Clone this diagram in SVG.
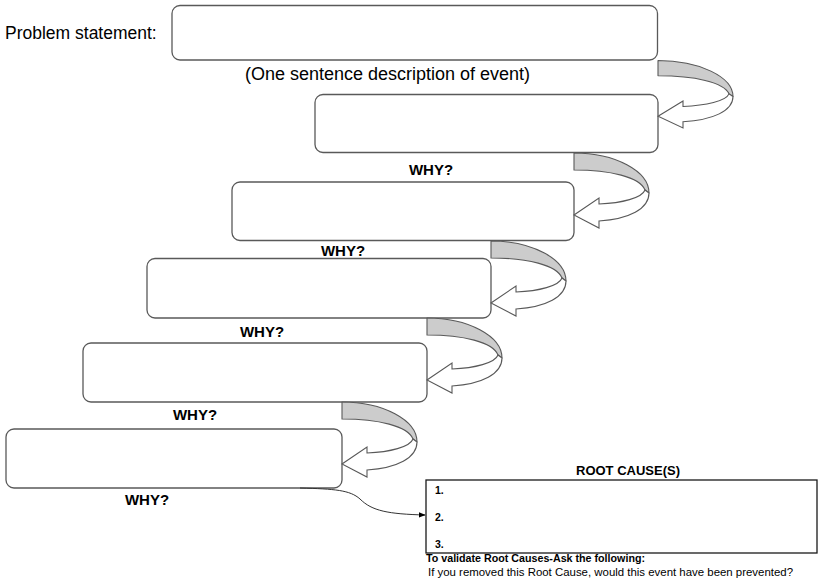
<svg xmlns="http://www.w3.org/2000/svg" width="822" height="586" viewBox="0 0 822 586">
<style>
.box{fill:#fff;stroke:#595959;stroke-width:1.3}
.rc{fill:#fff;stroke:#1a1a1a;stroke-width:1.3}
.lbl{font-family:"Liberation Sans",Arial,sans-serif;fill:#000}
.why{font-family:"Liberation Sans",Arial,sans-serif;font-weight:bold;font-size:15px;fill:#000;text-anchor:middle}
.small{font-family:"Liberation Sans",Arial,sans-serif;font-size:10.5px;fill:#000}
.gray{fill:#cccccc;stroke:#595959;stroke-width:1.1;stroke-linejoin:round}
.white{fill:#fff;stroke:#595959;stroke-width:1.1;stroke-linejoin:miter}
.link{fill:none;stroke:#333;stroke-width:1}
</style>
<defs>
<g id="curl">
<path class="gray" d="M0,0 C41,0 75,18 75,40 L71,37 C66,24 36,17 0,17 Z"/>
<path class="white" d="M75,40 C75,56 55,66 25,68 L25,75 L0,62 L25,45 L25,51 C48,50 68,45 71,37 Z"/>
</g>
<marker id="ah" viewBox="0 0 10 10" refX="9" refY="5" markerWidth="7" markerHeight="7" orient="auto" markerUnits="userSpaceOnUse">
<path d="M0,1 L10,5 L0,9 Z" fill="#000"/>
</marker>
</defs>

<text class="lbl" x="5" y="39" font-size="17.5">Problem statement:</text>

<g id="node-problem"><rect class="box" x="172" y="5.5" width="485.5" height="54.5" rx="8"/></g>
<text class="lbl" x="387.5" y="80" font-size="18" text-anchor="middle">(One sentence description of event)</text>

<g id="node-why1"><rect class="box" x="315" y="94.5" width="343" height="58" rx="8"/></g>
<text class="why" x="431" y="175">WHY?</text>

<g id="node-why2"><rect class="box" x="232" y="182" width="342" height="58.5" rx="8"/></g>
<text class="why" x="343" y="256">WHY?</text>

<g id="node-why3"><rect class="box" x="147" y="258.5" width="344" height="59.5" rx="8"/></g>
<text class="why" x="262" y="337">WHY?</text>

<g id="node-why4"><rect class="box" x="83" y="343" width="344" height="59" rx="8"/></g>
<text class="why" x="195" y="420">WHY?</text>

<g id="node-why5"><rect class="box" x="6" y="429" width="336" height="59" rx="8"/></g>
<text class="why" x="147" y="505">WHY?</text>

<g id="node-rootcause">
<text class="lbl" x="628" y="475" font-size="13" font-weight="bold" text-anchor="middle">ROOT CAUSE(S)</text>
<rect class="rc" x="426" y="480" width="391" height="73"/>
<text class="small" x="435" y="494" font-size="8.5" font-weight="bold">1.</text>
<text class="small" x="435" y="521" font-size="8.5" font-weight="bold">2.</text>
<text class="small" x="435" y="548" font-size="8.5" font-weight="bold">3.</text>
<text class="small" x="426" y="561.5" font-weight="bold" textLength="219" lengthAdjust="spacingAndGlyphs">To validate Root Causes-Ask the following:</text>
<text class="small" x="428" y="575.5" textLength="365" lengthAdjust="spacingAndGlyphs">If you removed this Root Cause, would this event have been prevented?</text>
</g>

<g id="connectors">
<use href="#curl" transform="translate(658,60.5) scale(1,0.9)"/>
<use href="#curl" transform="translate(574,153)"/>
<use href="#curl" transform="translate(491,241)"/>
<use href="#curl" transform="translate(427,318)"/>
<use href="#curl" transform="translate(342,402)"/>
<path class="link" d="M300,488 C335,489 350,490 360,499 C372,511 388,514 425,515" marker-end="url(#ah)"/>
</g>
</svg>
